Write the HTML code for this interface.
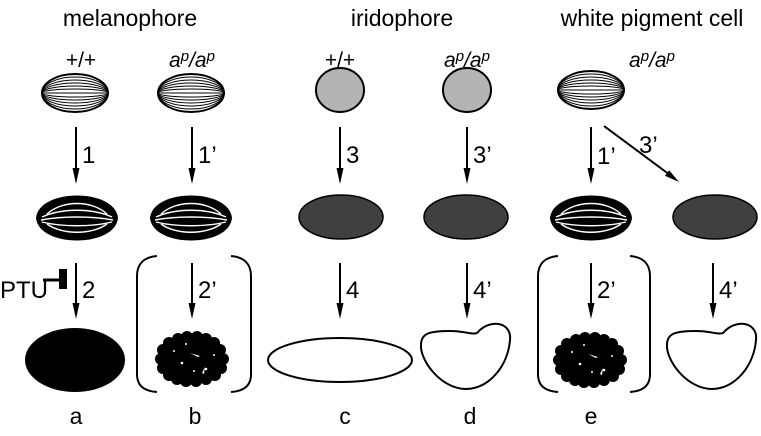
<!DOCTYPE html>
<html><head><meta charset="utf-8"><style>
html,body{margin:0;padding:0;background:#fff}
svg{display:block}
text{font-family:"Liberation Sans",Arial,sans-serif;fill:#000}
</style></head><body>
<svg width="761" height="436" viewBox="0 0 761 436" xmlns="http://www.w3.org/2000/svg">
<defs>
<g id="s1">
<ellipse cx="0" cy="0" rx="33" ry="19" fill="#fff" stroke="#000" stroke-width="2"/>
<g fill="none" stroke="#000" stroke-width="1">
<ellipse rx="33" ry="16"/><ellipse rx="33" ry="13"/><ellipse rx="33" ry="10"/><ellipse rx="33" ry="7"/><ellipse rx="33" ry="4"/><line x1="-33" y1="0" x2="33" y2="0"/>
</g></g>
<g id="s2">
<path d="M-41,0 C-38,-30 38,-30 41,0 C38,30 -38,30 -41,0 Z" fill="#000"/>
<g fill="none" stroke="#fff" stroke-width="1.4">
<path d="M-30,-4 C-15,-18 15,-18 30,-4"/><path d="M-35,-1 C-15,-10 15,-10 35,-1"/><path d="M-36,2 C-15,-2 15,-2 36,2"/><path d="M-35,4 C-15,9 15,9 35,4"/><path d="M-30,6 C-15,17 15,17 30,6"/>
</g></g>
<g id="agg">
<ellipse rx="31" ry="21" fill="#000"/>
<g fill="#000">
<circle cx="-31" cy="0" r="6"/><circle cx="-29" cy="-9" r="6"/><circle cx="-23" cy="-16" r="6"/><circle cx="-14" cy="-20" r="6"/><circle cx="-5" cy="-22" r="6"/><circle cx="5" cy="-22" r="6"/><circle cx="14" cy="-20" r="6"/><circle cx="22" cy="-16" r="6"/><circle cx="28" cy="-9" r="6"/><circle cx="31" cy="0" r="6"/><circle cx="29" cy="9" r="6"/><circle cx="23" cy="16" r="6"/><circle cx="14" cy="20" r="6"/><circle cx="4" cy="22" r="6"/><circle cx="-6" cy="22" r="6"/><circle cx="-15" cy="20" r="6"/><circle cx="-23" cy="16" r="6"/><circle cx="-29" cy="9" r="6"/>
</g>
<g fill="#fff">
<path d="M-2,-6 L8,-3 L6,-2 Z"/><circle cx="-10" cy="4" r="1.3"/><circle cx="14" cy="10" r="1.3"/><circle cx="-18" cy="-8" r="1"/><path d="M10,14 L13,8 L12,15 Z"/><circle cx="-6" cy="-15" r="1"/><circle cx="2" cy="12" r="1"/><circle cx="22" cy="-4" r="1"/>
</g></g>
<path id="kid" d="M11,-27 C24,-42 46,-38 44,-20 C42,5 24,29 -1,29 C-26,28 -46,0 -45,-15 C-45,-27 -36,-29 -16,-29 C-1,-29 6,-25 11,-27 Z" fill="#fff" stroke="#000" stroke-width="2"/>
</defs>

<text x="130" y="26" font-size="23" text-anchor="middle">melanophore</text>
<text x="402" y="26" font-size="23" text-anchor="middle">iridophore</text>
<text x="652" y="26" font-size="23" text-anchor="middle">white pigment cell</text>

<text x="81" y="67" font-size="21" text-anchor="middle">+/+</text>
<text x="192" y="67" font-size="21" text-anchor="middle" font-style="italic">a<tspan font-size="15" dy="-6">p</tspan><tspan dy="6">/a</tspan><tspan font-size="15" dy="-6">p</tspan></text>
<text x="340" y="67" font-size="21" text-anchor="middle">+/+</text>
<text x="467" y="67" font-size="21" text-anchor="middle" font-style="italic">a<tspan font-size="15" dy="-6">p</tspan><tspan dy="6">/a</tspan><tspan font-size="15" dy="-6">p</tspan></text>
<text x="652" y="67" font-size="21" text-anchor="middle" font-style="italic">a<tspan font-size="15" dy="-6">p</tspan><tspan dy="6">/a</tspan><tspan font-size="15" dy="-6">p</tspan></text>

<use href="#s1" x="75" y="93"/>
<use href="#s1" x="191" y="93"/>
<use href="#s1" x="591" y="90"/>
<ellipse cx="340" cy="90" rx="24" ry="22" fill="#b4b4b4" stroke="#000" stroke-width="2"/>
<ellipse cx="467" cy="90" rx="24" ry="22" fill="#b4b4b4" stroke="#000" stroke-width="2"/>

<g stroke="#000" stroke-width="2">
<line x1="76" y1="127" x2="76" y2="175"/>
<line x1="192" y1="127" x2="192" y2="175"/>
<line x1="340" y1="127" x2="340" y2="175"/>
<line x1="467" y1="127" x2="467" y2="175"/>
<line x1="591" y1="127" x2="591" y2="175"/>
<line x1="604" y1="126" x2="670" y2="175"/>
<line x1="76" y1="263" x2="76" y2="310"/>
<line x1="192" y1="263" x2="192" y2="310"/>
<line x1="340" y1="263" x2="340" y2="310"/>
<line x1="467" y1="263" x2="467" y2="310"/>
<line x1="591" y1="263" x2="591" y2="310"/>
<line x1="713" y1="263" x2="713" y2="310"/>
</g>
<g fill="#000">
<polygon points="72.5,168 76,184 79.5,168"/>
<polygon points="188.5,168 192,184 195.5,168"/>
<polygon points="336.5,168 340,184 343.5,168"/>
<polygon points="463.5,168 467,184 470.5,168"/>
<polygon points="587.5,168 591,184 594.5,168"/>
<polygon points="664.9,175.8 679,182 669.1,170.2"/>
<polygon points="72.5,303 76,319 79.5,303"/>
<polygon points="188.5,303 192,319 195.5,303"/>
<polygon points="336.5,303 340,319 343.5,303"/>
<polygon points="463.5,303 467,319 470.5,303"/>
<polygon points="587.5,303 591,319 594.5,303"/>
<polygon points="709.5,303 713,319 716.5,303"/>
</g>
<g font-size="24">
<text x="82" y="163">1</text><text x="198" y="163">1’</text><text x="346" y="163">3</text><text x="473" y="163">3’</text><text x="597" y="164">1’</text><text x="639" y="153">3’</text>
<text x="82" y="298">2</text><text x="198" y="298">2’</text><text x="346" y="298">4</text><text x="473" y="298">4’</text><text x="597" y="298">2’</text><text x="719" y="298">4’</text>
<text x="0" y="298">PTU</text>
</g>
<line x1="43" y1="280" x2="60" y2="280" stroke="#000" stroke-width="3"/>
<rect x="59" y="269" width="8" height="20" fill="#000"/>

<use href="#s2" x="77" y="218"/>
<use href="#s2" x="191" y="218"/>
<use href="#s2" x="591" y="218"/>
<ellipse cx="341" cy="217" rx="42" ry="22" fill="#404040" stroke="#000" stroke-width="1.5"/>
<ellipse cx="466" cy="217" rx="42" ry="22" fill="#404040" stroke="#000" stroke-width="1.5"/>
<ellipse cx="715" cy="217" rx="42" ry="22" fill="#404040" stroke="#000" stroke-width="1.5"/>

<ellipse cx="75" cy="360" rx="50" ry="32" fill="#000"/>
<use href="#agg" x="192" y="359"/>
<use href="#agg" x="590" y="360"/>
<ellipse cx="340" cy="360" rx="72" ry="22" fill="#fff" stroke="#000" stroke-width="2"/>
<use href="#kid" x="466" y="360"/>
<use href="#kid" x="712" y="360"/>

<g fill="none" stroke="#000" stroke-width="2">
<path d="M157,256 C144,257 137,264 137,276 L137,374 C137,386 144,391 157,392"/>
<path d="M231,256 C244,257 251,264 251,276 L251,374 C251,386 244,391 231,392"/>
<path d="M558,256 C545,257 538,264 538,276 L538,374 C538,386 545,391 558,392"/>
<path d="M630,256 C643,257 650,264 650,276 L650,374 C650,386 643,391 630,392"/>
</g>

<g font-size="23" text-anchor="middle">
<text x="76" y="424">a</text><text x="195" y="424">b</text><text x="345" y="424">c</text><text x="470" y="424">d</text><text x="591" y="424">e</text>
</g>
</svg>
</body></html>
